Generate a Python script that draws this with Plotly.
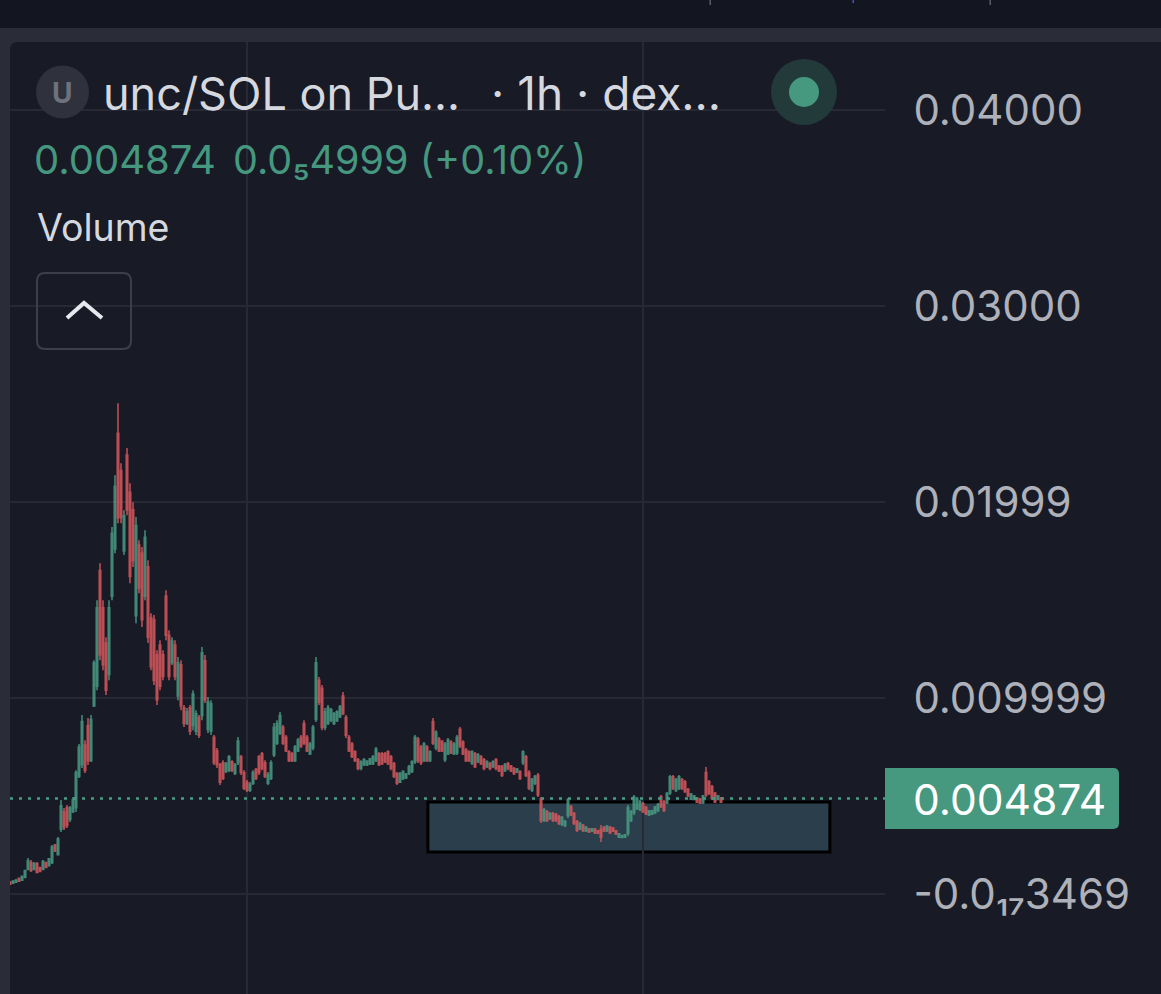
import plotly.graph_objects as go

W, H = 1161, 994

# Prices in units of 0.0001
opens = [6,5.5,6,8,7,8.5,12.5,16,12.5,15.5,13.5,12.5,16,14.5,16,25,20,33,42,44,38,42,44,60,66,76,86,68,96,106,165,146,128,112,152,176,235,216,175,
224,205,196,142,178,174,152,167,141,140,122,127,122,152,132,118,127,101,117,95,87,95,86,83,90,91,119,84,83,80,73,66,67,62.5,63,67.5,61.5,67,70,62,
57,53,56.5,63.5,70,71.5,67,56.5,59,71,77,82,85,80,72.5,71.5,68,73,80,87,80,71.5,74.5,89,109,105,85,87,88.5,87,88.5,90.5,101,90,80,76.5,72.5,68.5,64,66,
65.8,66.3,66.5,68,71.5,71.5,71.5,72.5,70,66.5,61.5,57,58.8,59.2,61.5,62.5,67.5,79,75,68,75,68,88,74.5,79,78,68.5,71.5,77.5,71.5,72,84,77.5,73.5,72.5,66.8,
71.5,67.5,70,68.5,65,66.5,65,68.5,65.3,65,63,66.5,65.3,64,62.2,62.5,67,70,62,53,56.5,60.5,48.5,37.5,42,38.5,41,40.5,39.5,35.5,34.8,40,44.5,41,37,33.2,
35,32.2,33.2,32,33.2,32.2,33,34,32.2,34,33.7,32.2,29,28.9,29,31,37.5,41.5,43.5,43,46,44.2,40.3,40.7,41.4,42.5,49.7,47,46.6,51.5,59.8,52.8,53.8,58.4,57.3,53.4,
48.4,48.3,49,48.5,46.6,62,57.3,54.8,51.4,48.3,49]
highs = [6.6,7.1,7.7,8.2,9.2,12.2,18.4,17.3,16.3,16.3,13.8,17.3,16.3,18.4,25,25.5,29.1,47.9,43.9,45.4,44.9,49.5,63.2,76.5,91.3,78.5,89.8,91.3,119.3,149.9,168.8,149.9,131,149.9,187.2,213.7,250.4,219.8,195.8,
227.5,209.6,199.9,192.3,180.5,177,185.6,170.3,143.3,142.3,124.4,129.5,124.4,155,134.6,131,129.5,120.9,119.3,96.4,94.9,96.4,104,93.8,91.3,126,121.9,100.5,98.9,81.1,74.5,66.8,68.3,67.3,70.9,68.3,66.8,80.1,70.9,63.2,
58.1,57.1,63.2,64.3,70.9,72.4,68.3,62.2,68.3,87.2,88.7,92.8,86.2,81.1,73.4,72.4,76,79.6,81.1,88.7,81.1,77.5,86.2,120.9,110.7,106.6,94.9,96.4,94.9,92.8,93.8,96.4,103,91.3,81.1,77.5,73.4,69.4,68.3,69.4,
68.3,69.4,70.9,75,72.4,72.4,72.4,73.4,70.9,67.3,62.2,62.2,63.2,61.7,65.8,68.3,81.1,80.1,76,77.5,76,73.4,89.8,83.6,80.1,78.5,77.5,79.6,78.5,77.5,81.1,85.2,78.5,74.5,73.4,73.4,
72.4,71.9,70.9,69.4,68.3,67.3,68.3,69.4,65.8,65.8,66.8,67.3,65.8,64.8,64.3,63.2,73.4,70.9,63.2,59.2,60.7,61.7,49.5,43.9,42.8,41.8,41.8,41.3,40.3,39.8,37.7,49,45.4,41.8,37.7,36.7,
35.7,34.7,33.7,33.7,33.7,32.6,35.2,34.7,35.2,34.7,34.2,32.6,31.1,30.1,30.6,45.4,42.8,50.5,49.5,47.9,46.9,44.9,42.8,42.8,44.9,46.4,50.5,47.9,52,60.7,60.7,59.2,60.7,59.2,58.1,54.1,
51.5,50.5,49.5,49,50.5,64.8,58.1,55.6,52,50.5,49.5]
lows = [4.6,5.1,5.6,6.1,6.6,8.2,12.2,11.2,12.2,10.7,11.2,12.2,13.3,14.3,15.3,21.4,19.9,31.6,32.6,33.7,36.7,41.3,41.8,59.2,64.3,61.7,65.8,67.3,95.4,104,119.3,114.2,101.5,109.1,149.9,173.9,189.2,189.2,172.9,
193.3,158.6,166.8,138.2,153.5,136.2,149.9,128,114.2,106.6,96.4,104,109.1,129.5,109.1,116.8,109.1,98.9,93.8,85.2,86.2,81.1,83.6,81.1,79.6,88.7,97.4,82.1,81.1,65.8,64.3,55.6,58.1,61.7,62.2,62.2,60.7,65.8,60.7,53,
52,52,55.6,58.1,60.7,63.2,59.2,55.6,58.1,69.9,76,81.1,76,72.4,67.3,67.3,67.3,72.4,74.5,76,72.4,70.9,73.4,87.7,96.4,83.6,83.6,86.2,87.7,86.2,87.7,89.8,91.3,79.6,72.4,69.4,67.3,63.2,63.2,65.3,
65.3,65.8,65.8,67.3,65.3,65.8,66.8,65.8,63.2,59.2,55.6,56.6,58.1,58.7,60.7,61.7,66.3,66.8,65.8,67.3,67.3,67.3,76,73.4,72.4,72.4,67.3,70.9,71.4,70.9,70.9,74.5,70.9,67.3,67.3,65.8,
64.3,66.8,65.8,63.2,64.3,63.2,64.3,63.2,62.2,59.7,62.2,63.2,62.2,60.7,61.7,58.1,65.8,59.7,53,52,55.6,49.5,36.2,36.7,36.7,37.7,36.7,36.7,35.2,34.7,34.2,38.8,39.8,35.2,31.6,32.6,
31.6,31.6,31.1,31.6,30.6,30.6,26.5,31.6,31.6,30.6,31.6,30.1,28.6,28.6,28.6,29.6,36.7,40.3,42.8,42.3,41.3,40.3,39.8,40.3,40.8,41.8,43.9,41.8,45.9,50.5,53,52,53,53,51.5,49.5,
47.9,47.9,46.4,45.9,45.9,49.5,50.5,47.9,46.4,47.9,46.4]
closes = [5,6.5,7,6.5,9,12,17,12,15.5,11,11.5,16.5,13.5,18,24,22,28,45,34,35,44,48,62,75,88,63,68,89,118,146,122,117,104,146,184,208,192,192,193,
196,162,170,188,156,140,182,131,116,109,99,106,111,132,111,129,111,118,96,87,93,83,102,92,81,123,99,98,97,67,66,57,59,66.5,70,63,66,78,62,54,
53,56,62,59,62,64,60,61,67,85,87,91,77,73,68,68,75,78.5,75.5,77,73,76.5,85,118,98,85,93,95,94,92,93,95.5,92,81,73,70,68,64,67.5,68.5,
67.8,69,70,74,66,66.5,67.5,66.5,64,60,56.5,61.5,62.5,61.2,65,67.5,80,68,67,76.5,68,72.5,77,82.5,73,73,76.5,78.5,72,76.5,80,75.5,71.5,68,68,72.5,
65,71,66.5,64,67.5,64,67.5,64,62.8,60.5,66,64,62.8,61.5,63.8,59,72.5,60.5,54,58.5,60,50.5,37.5,43,37.5,41,37.5,37.5,36,39,37,48,40.5,36,32.5,36,
32.3,34,31.6,33.3,31.2,31,29,32.2,34.6,31.2,32,30.6,30.7,29.8,30.2,44,42,49.5,48.7,47.2,42,41,42.3,42.4,44.3,45.7,44.6,42.6,51.2,59.8,53.8,58.4,59.8,53.8,52.3,50.2,
51,50.1,46.9,46.4,50,50.5,51.3,48.7,47,50.1,46.9]
candle_index = list(range(len(opens)))

tick_values = [0.04, 0.03, 0.02, 0.01, 0.0]
tick_labels = ["0.04000", "0.03000", "0.01999", "0.009999", "-0.0₁₇3469"]
last_price = 0.004874
last_price_label = "0.004874"
support_zone_x = [139.3, 273.3]
support_zone_y = [0.00214, 0.00469]
time_grid = [79, 211]

BG, STRIP, TOP = "#181b26", "#2a2d38", "#131521"
GRID = "#272a35"
GREEN, RED = "#4a9c84", "#d9585e"
TXT, AXT = "#d6d8df", "#aeb1b9"
FONT = "Inter, Roboto, sans-serif"

px = lambda v: v / W
py = lambda v: 1 - v / H


def rect(x0, y0, x1, y1, fill, **kw):
    return dict(type="rect", xref="paper", yref="paper", x0=px(x0), x1=px(x1), y0=py(y0), y1=py(y1),
                fillcolor=fill, line=dict(width=0), **kw)


def circle(cx, cy, r, fill):
    return dict(type="circle", xref="paper", yref="paper", x0=px(cx - r), x1=px(cx + r), y0=py(cy - r), y1=py(cy + r),
                fillcolor=fill, line=dict(width=0), layer="above")


def label(x, y, text, size, color, anchor="left", **kw):
    return dict(xref="paper", yref="paper", x=px(x), y=py(y), text=text, showarrow=False, xanchor=anchor,
                yanchor="middle", align="left", font=dict(family=FONT, size=size, color=color), borderpad=0, **kw)


def pt(x, y):
    return f"{px(x):.5f},{py(y):.5f}"


fig = go.Figure(go.Candlestick(
    x=candle_index,
    open=[v * 1e-4 for v in opens], high=[v * 1e-4 for v in highs],
    low=[v * 1e-4 for v in lows], close=[v * 1e-4 for v in closes],
    increasing=dict(line=dict(color=GREEN, width=1.6), fillcolor=GREEN),
    decreasing=dict(line=dict(color=RED, width=1.6), fillcolor=RED),
    whiskerwidth=0, showlegend=False, opacity=0.85,
))

shapes = [
    rect(0, 0, W, 28, TOP, layer="below"),
    rect(0, 28, W, 42, STRIP, layer="below"),
    rect(0, 28, 10, H, STRIP, layer="below"),
    dict(type="path", xref="paper", yref="paper", layer="below", line=dict(width=0), fillcolor=STRIP,
         path=f"M{pt(10, 42)} L{pt(18, 42)} Q{pt(10, 42)} {pt(10, 50)} Z"),
    rect(709.5, 0, 711, 5, "#5a5d68"), rect(852.5, 0, 854, 3, "#4a50c8"), rect(989.5, 0, 991, 5, "#5a5d68"),
    # zone and last price line are drawn on the data axes
    dict(type="rect", xref="x", yref="y", x0=support_zone_x[0], x1=support_zone_x[1],
         y0=support_zone_y[0], y1=support_zone_y[1], fillcolor="rgba(66,107,122,0.45)",
         line=dict(color="#000000", width=3), layer="below"),
    dict(type="line", xref="paper", yref="y", x0=px(10), x1=px(885), y0=last_price, y1=last_price,
         line=dict(color=GREEN, width=2.5, dash="3px,6px"), layer="above"),
    # price tag
    dict(type="path", xref="paper", yref="paper", layer="above", fillcolor="#46997f", line=dict(width=0),
         path=f"M{pt(885, 768)} L{pt(1113, 768)} Q{pt(1119, 768)} {pt(1119, 774)} "
              f"L{pt(1119, 823)} Q{pt(1119, 829)} {pt(1113, 829)} L{pt(885, 829)} Z"),
    # symbol badge and status dot
    circle(62.5, 92, 26.5, "#2f323d"),
    circle(804, 92, 33, "#233a3b"),
    circle(804, 92, 15, "#46997f"),
    # collapse button
    dict(type="path", xref="paper", yref="paper", layer="above", fillcolor="rgba(0,0,0,0)", line=dict(color="#3c3f4a", width=2),
         path=f"M{pt(45, 273)} L{pt(123, 273)} Q{pt(131, 273)} {pt(131, 281)} L{pt(131, 341)} Q{pt(131, 349)} {pt(123, 349)} "
              f"L{pt(45, 349)} Q{pt(37, 349)} {pt(37, 341)} L{pt(37, 281)} Q{pt(37, 273)} {pt(45, 273)} Z"),
    dict(type="path", xref="paper", yref="paper", layer="above", line=dict(color="#e6e8ee", width=4),
         path=f"M{pt(67, 318)} L{pt(84, 303)} L{pt(102, 318)}"),
]

annotations = [
    label(62.5, 93, "<b>U</b>", 28, "#6f727c", anchor="center"),
    label(102, 93, "unc/SOL on Pu...", 45, TXT),
    label(490, 93, "· 1h · dex...", 46, TXT),
    label(33, 160, "0.004874", 40, "#45987f"),
    label(232, 160, "0.0₅4999 (+0.10%)", 39.5, "#45987f"),
    label(36, 228, "Volume", 37.5, TXT),
    label(912, 799, last_price_label, 42.5, "#ffffff"),
]

fig.update_layout(
    width=W, height=H, autosize=False,
    margin=dict(l=0, r=0, t=0, b=0, pad=0),
    paper_bgcolor=BG, plot_bgcolor=BG,
    shapes=shapes, annotations=annotations,
    hovermode=False, dragmode=False,
    xaxis=dict(domain=[px(10), px(885)], range=[0, 875 / 3], rangeslider=dict(visible=False),
               tickmode="array", tickvals=time_grid, showticklabels=False, ticks="",
               showgrid=True, gridcolor=GRID, gridwidth=2, zeroline=False, showline=False, fixedrange=True),
    yaxis=dict(domain=[0, py(42)], range=[-100 / 19600, 852 / 19600], side="right",
               tickmode="array", tickvals=tick_values, ticktext=tick_labels,
               ticks="outside", ticklen=0, ticklabelstandoff=19,
               tickfont=dict(family=FONT, size=42, color=AXT),
               showgrid=True, gridcolor=GRID, gridwidth=2, zeroline=False, showline=False, fixedrange=True),
)

fig.write_html("out.html", config=dict(displayModeBar=False),
               post_script="document.body.style.margin='0';document.body.style.background='#181b26';document.body.style.overflow='hidden';")
